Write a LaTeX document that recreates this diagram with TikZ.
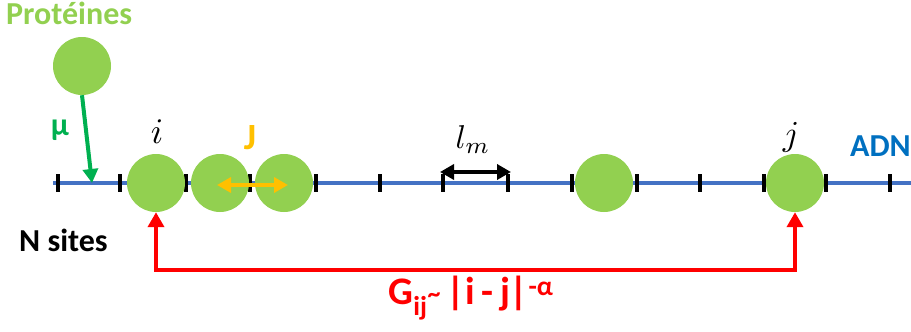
\documentclass[tikz,border=0pt]{standalone}
\usepackage{graphicx}
\usepackage{fontspec}
\setmainfont{Carlito}
\usetikzlibrary{arrows.meta}
\definecolor{prot}{HTML}{92D050}
\definecolor{mugreen}{HTML}{00B050}
\definecolor{dna}{HTML}{4472C4}
\definecolor{adn}{HTML}{0070C0}
\definecolor{jor}{HTML}{FFC000}
\definecolor{gred}{HTML}{FF0000}
\begin{document}
\begin{tikzpicture}[x=1pt,y=-1pt,
  prot/.style={circle,fill=prot,minimum size=58pt,inner sep=0pt},
  tick/.style={line width=4.5pt,black},
  lbl/.style={font=\bfseries\fontsize{32}{34}\selectfont,inner sep=0pt},
  mathlbl/.style={font=\normalsize,inner sep=0pt},
  >={Triangle[length=14pt,width=15pt]}]
\useasboundingbox (0,0) rectangle (911,332);
% DNA line
\coordinate (L) at (53,183);
\coordinate (R) at (911,183);
\draw[dna,line width=4.5pt] (L) -- (R);
% ticks
\foreach \x in {58,120,186,250,316,380,443,508,572,637,700,764,826,890}
  \draw[tick] (\x,174) -- (\x,192);
% proteins
\node[prot] (p0) at (82,66) {};
\node[prot] (pi) at (156,183) {};
\node[prot] (p2) at (220,183) {};
\node[prot] (p3) at (284,183) {};
\node[prot] (p4) at (604,183) {};
\node[prot] (pj) at (795,183) {};
% labels
\node[lbl,text=prot,anchor=west] (prottxt) at (6,13) {Protéines};
\node[lbl,text=mugreen] (mu) at (60,130) {µ};
\node[mathlbl] (ilbl) at (157,132) {\scalebox{3.6}{$i$}};
\node[mathlbl] (jlbl) at (791,137) {\scalebox{3.5}{$j$}};
\node[lbl,text=jor,font=\bfseries\fontsize{37}{39}\selectfont] (Jlbl) at (250,138) {J};
\node[mathlbl] (lm) at (473,140) {\scalebox{3.3}{$l_m$}};
\node[lbl,text=adn,anchor=east] (adn) at (911,146) {ADN};
\node[lbl,anchor=west] (nsites) at (19,240) {N sites};
% mu arrow
\coordinate (muend) at (92,183);
\draw[mugreen,line width=4pt,->] (p0.south) -- (muend);
% J arrow
\coordinate (ja) at (217,185);
\coordinate (jb) at (288,185);
\draw[jor,line width=3.5pt,<->] (ja) -- (jb);
% lm arrow
\coordinate (la) at (440,172);
\coordinate (lb) at (511,172);
\draw[black,line width=3.5pt,<->] (la) -- (lb);
% red connection
\coordinate (ri) at (156,270);
\coordinate (rj) at (795,270);
\draw[gred,line width=4pt,{Triangle[length=15pt,width=16pt]}-{Triangle[length=15pt,width=16pt]}] (pi.south) -- (ri) -- (rj) -- (pj.south);
\node[lbl,text=gred,font=\bfseries\fontsize{39}{41}\selectfont] (glbl) at (471,298) {G\textsubscript{ij}\raisebox{0.05em}{\fontsize{26}{28}\selectfont\char"007E}\,|i\,-\,j|\textsuperscript{-α}};
\end{tikzpicture}
\end{document}
